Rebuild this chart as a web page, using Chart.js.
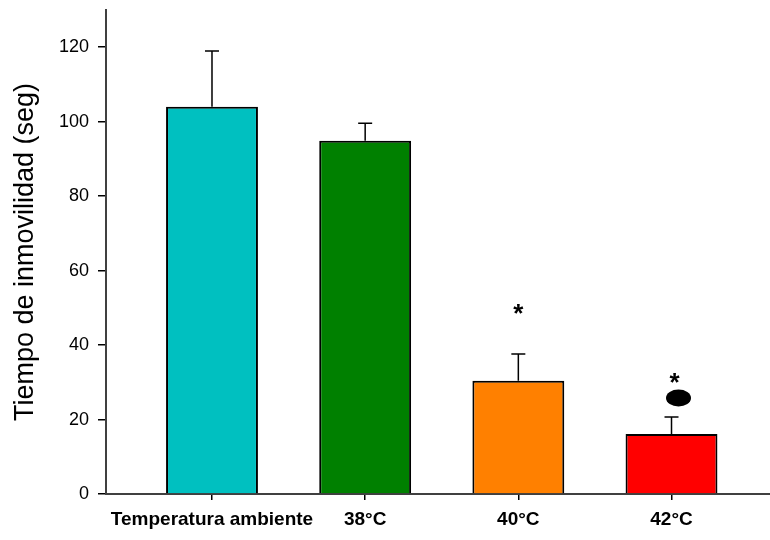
<!DOCTYPE html>
<html>
<head>
<meta charset="utf-8">
<script src="https://cdn.jsdelivr.net/npm/chart.js@4"></script>
<style>
  html, body { margin: 0; padding: 0; background: #fff; }
  canvas { display: block; }
</style>
</head>
<body>
<canvas id="chart" width="770" height="540"></canvas>
<script>
'use strict';

// ── Data ─────────────────────────────────────────────────────────
const categories = ['Temperatura ambiente', '38°C', '40°C', '42°C'];
const means      = [104.0, 94.9, 30.4, 16.1];
const sem        = [15.0, 4.7, 7.2, 4.6];
const barColors  = ['#00C0C0', '#008000', '#FF8000', '#FF0000'];
const stars      = ['', '', '*', '*'];
const dots       = [false, false, false, true];
const yTicks     = [0, 20, 40, 60, 80, 100, 120];

// ── Error bars + significance marks ──────────────────────────────
const errorBars = {
  id: 'errorBars',
  afterDatasetsDraw(chart) {
    const { ctx, scales: { x, y } } = chart;
    ctx.save();
    ctx.strokeStyle = '#000';
    ctx.fillStyle = '#000';
    ctx.lineWidth = 1.5;
    means.forEach((m, i) => {
      const px = x.getPixelForValue(i + 1);
      const yBar = y.getPixelForValue(m);
      const yTop = y.getPixelForValue(m + sem[i]);
      ctx.beginPath();
      ctx.moveTo(px, yBar);
      ctx.lineTo(px, yTop);
      ctx.moveTo(px - 7, yTop);
      ctx.lineTo(px + 7, yTop);
      ctx.stroke();

      if (dots[i]) {
        ctx.beginPath();
        ctx.ellipse(px + 7, yTop - 19, 12.5, 8.5, 0, 0, Math.PI * 2);
        ctx.fill();
      }
      if (stars[i]) {
        const cy = yTop - (dots[i] ? 37 : 43);
        ctx.font = 'bold 26px "Liberation Sans", Arial, sans-serif';
        ctx.textAlign = 'center';
        ctx.textBaseline = 'alphabetic';
        ctx.fillText(stars[i], px + (dots[i] ? 3 : 0), cy + 11);
      }
    });
    ctx.restore();
  },
};

// ── Chart ────────────────────────────────────────────────────────
new Chart(document.getElementById('chart').getContext('2d'), {
  type: 'bar',
  data: {
    datasets: [{
      data: means.map((v, i) => ({ x: i + 1, y: v })),
      backgroundColor: barColors,
      borderColor: '#000',
      borderWidth: 2,
      borderSkipped: 'start',
      categoryPercentage: 1,
      barPercentage: 0.6,
    }],
  },
  options: {
    responsive: false,
    animation: false,
    layout: { padding: { top: 10, right: 0, left: 0, bottom: 0 } },
    plugins: { legend: { display: false }, tooltip: { enabled: false } },
    scales: {
      x: {
        type: 'linear',
        offset: false,
        min: 0.308,
        max: 4.643,
        afterBuildTicks: (axis) => { axis.ticks = categories.map((_, i) => ({ value: i + 1 })); },
        afterFit: (axis) => { axis.height = 46; axis.paddingLeft = 0; axis.paddingRight = 0; },
        grid: { offset: false, drawOnChartArea: false, drawTicks: true, tickLength: 6, color: '#000', lineWidth: 1.5 },
        border: { display: true, color: '#404040', width: 2 },
        ticks: {
          color: '#000',
          padding: 8,
          autoSkip: false,
          maxRotation: 0,
          font: { family: '"Liberation Sans", Arial, sans-serif', size: 19, weight: 'bold' },
          callback: (v, i) => categories[i],
        },
      },
      y: {
        min: 0,
        max: 130,
        afterBuildTicks: (axis) => { axis.ticks = yTicks.map((v) => ({ value: v })); },
        afterFit: (axis) => { axis.width = 106; axis.paddingTop = 0; axis.paddingBottom = 0; },
        grid: { drawOnChartArea: false, drawTicks: true, tickLength: 8, color: '#000', lineWidth: 1.5 },
        border: { display: true, color: '#404040', width: 2 },
        ticks: {
          color: '#000',
          padding: 9,
          font: { family: '"Liberation Sans", Arial, sans-serif', size: 18 },
        },
        title: {
          display: true,
          text: 'Tiempo de inmovilidad (seg)',
          color: '#000',
          padding: { top: 9, bottom: 0 },
          font: { family: '"Liberation Sans", Arial, sans-serif', size: 27, weight: 'normal' },
        },
      },
    },
  },
  plugins: [errorBars],
});
</script>
</body>
</html>
